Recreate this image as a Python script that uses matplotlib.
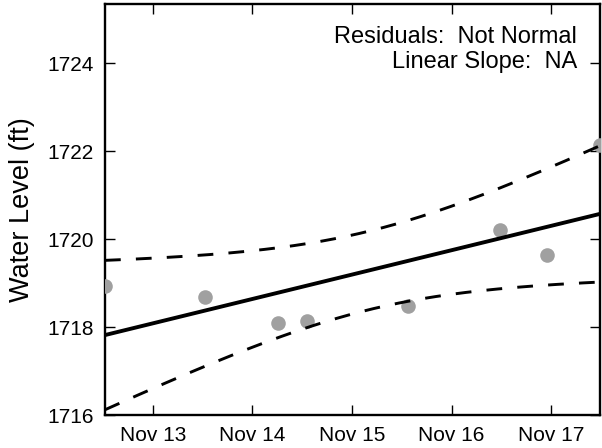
import numpy as np
import pandas as pd
import matplotlib
matplotlib.use("Agg")
import matplotlib.pyplot as plt
import matplotlib.dates as mdates

plt.rcParams['font.family'] = ['Liberation Sans', 'DejaVu Sans']

# Data
dates = ["2015-11-12 12:30", "2015-11-13 12:30", "2015-11-14 06:15", "2015-11-14 13:10",
         "2015-11-15 13:25", "2015-11-16 11:45", "2015-11-16 23:00", "2015-11-17 11:45"]
levels = [1718.93, 1718.68, 1718.10, 1718.13, 1718.48, 1720.20, 1719.64, 1722.14]
annotation = ["Residuals:  Not Normal", "Linear Slope:  NA"]
T_CRIT = 2.447  # t(0.975, df=6)

t = pd.to_datetime(dates)
x = mdates.date2num(t)
y = np.array(levels)

# OLS fit with 95% confidence band on the mean
n = len(x)
xm = x.mean()
sxx = np.sum((x - xm) ** 2)
slope = np.sum((x - xm) * (y - y.mean())) / sxx
icpt = y.mean() - slope * xm
res = y - (icpt + slope * x)
s = np.sqrt(np.sum(res ** 2) / (n - 2))
xf = np.linspace(x.min(), x.max(), 200)
yf = icpt + slope * xf
se = s * np.sqrt(1.0 / n + (xf - xm) ** 2 / sxx)
upper = yf + T_CRIT * se
lower = yf - T_CRIT * se

fig = plt.figure(figsize=(6.02, 4.48), dpi=100)
ax = fig.add_axes([105 / 602, 33 / 448, 495 / 602, 411 / 448])

ax.plot(x, y, 'o', color='#a0a0a0', markersize=10.5, markeredgewidth=0, zorder=3)
ax.plot(xf, yf, color='black', lw=2.8, zorder=4)
ax.plot(xf, upper, color='black', lw=2.1, dashes=(5.4, 5.2), zorder=4)
ax.plot(xf, lower, color='black', lw=2.1, dashes=(5.4, 5.2), zorder=4)

ax.set_xlim(x.min(), x.max())
ax.set_ylim(1716, 1725.35)
ax.set_yticks([1716, 1718, 1720, 1722, 1724])
ax.xaxis.set_major_locator(mdates.DayLocator())
ax.xaxis.set_major_formatter(mdates.DateFormatter('%b %d'))

for sp in ax.spines.values():
    sp.set_linewidth(1.7)
ax.tick_params(direction='in', length=7.5, width=1.0, top=True, right=True,
               labelsize=15, pad=8)
ax.set_ylabel("Water Level (ft)", fontsize=19.5, labelpad=9)

ax.text(0.9535, 0.946, "\n".join(annotation), transform=ax.transAxes,
        ha='right', va='top', fontsize=17, linespacing=1.15, multialignment='right')

fig.savefig("out.png", dpi=100)
